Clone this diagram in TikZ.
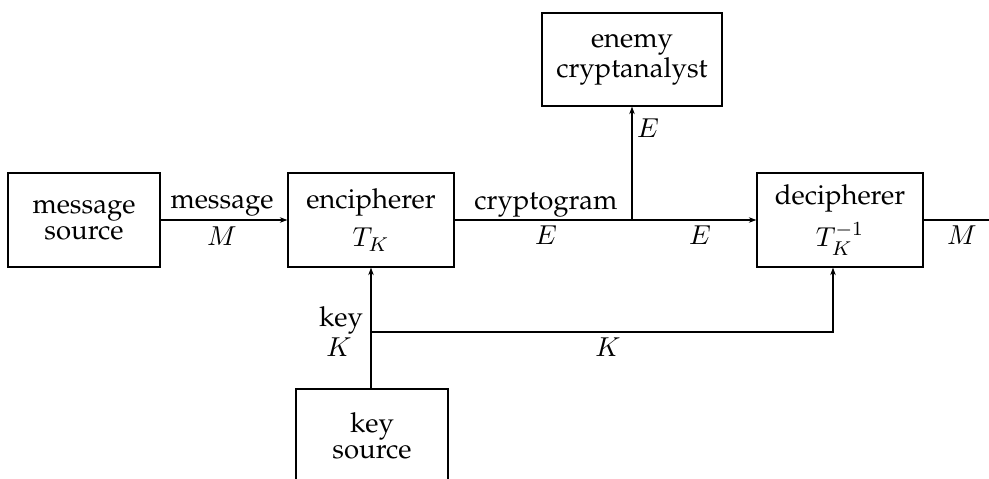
\documentclass[tikz,border=0pt]{standalone}
\usepackage[T1]{fontenc}
\renewcommand{\rmdefault}{ppl}
\usetikzlibrary{arrows.meta}
\tikzset{
  blk/.style={draw, line width=0.5pt, align=center, inner sep=0pt,
    font=\fontsize{11}{10.4}\selectfont},
  wire/.style={line width=0.5pt},
  arr/.style={wire, -{Stealth[length=3pt,width=2.2pt]}},
  lbl/.style={anchor=base, inner sep=0pt, font=\fontsize{11}{13}\selectfont},
}
\begin{document}
\begin{tikzpicture}[x=0.4pt,y=-0.4pt]
\useasboundingbox (0,0) rectangle (989,479);
\node[blk, minimum width=60.8pt, minimum height=37.6pt] (msg) at (84,220) {message\\source};
\node[blk, minimum width=66.4pt, minimum height=37.6pt] (enc) at (371,220) {encipherer\\[3.6pt]$T_K$};
\node[blk, minimum width=66.4pt, minimum height=37.6pt] (dec) at (840,220) {decipherer\\[3pt]$T_K^{-1}$};
\node[blk, minimum width=72pt, minimum height=37.2pt] (enemy) at (632,59.5) {enemy\\cryptanalyst};
\node[blk, minimum width=60.8pt, minimum height=37.6pt] (key) at (372,436) {key\\source};
\coordinate (br) at (632,220);
\coordinate (kj) at (371,332);
\coordinate (out) at (995,220);
\draw[arr] (msg.east) -- (enc.west);
\draw[arr] (enc.east) -- (dec.west);
\draw[arr] (br) -- (enemy.south);
\draw[arr] (key.north -| kj) -- (enc.south -| kj);
\draw[arr] (kj) -| ([xshift=-2.8pt]dec.south);
\draw[wire] (dec.east) -- (out);
\node[lbl] (l1) at (222,209) {message};
\node[lbl] (l2) at (222,246) {$M$};
\node[lbl] (l3) at (546,210) {cryptogram};
\node[lbl] (l4) at (546,245) {$E$};
\node[lbl] (l5) at (700,245) {$E$};
\node[lbl] (l6) at (648,138) {$E$};
\node[lbl] (l7) at (962,245) {$M$};
\node[lbl] (l8) at (341,327) {key};
\node[lbl] (l9) at (339,357) {$K$};
\node[lbl] (l10) at (608,357) {$K$};
\end{tikzpicture}
\end{document}
